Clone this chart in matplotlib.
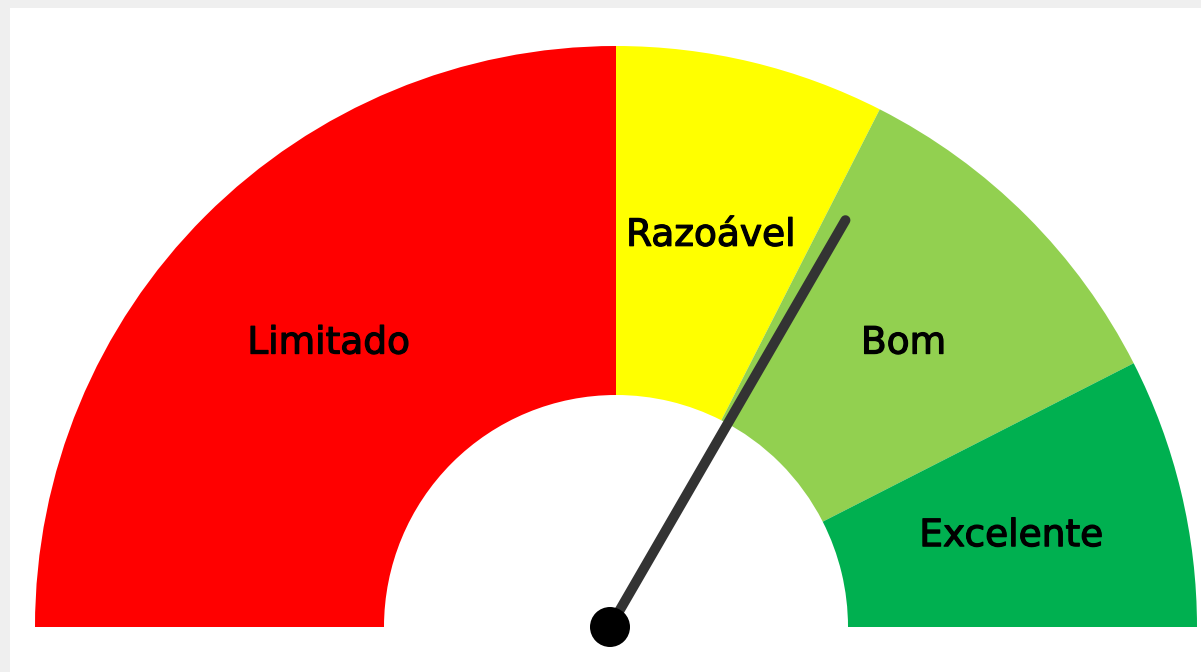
import numpy as np
import matplotlib.pyplot as plt
import matplotlib.patheffects as pe
from matplotlib.patches import Wedge, Rectangle, Circle

labels = ['Limitado', 'Razoável', 'Bom', 'Excelente']
values = [50, 15, 20, 15]
colors = ['#ff0000', '#ffff00', '#92d050', '#00b050']
needle_value = 66.7
total = sum(values)

W, H = 1201, 672
fig = plt.figure(figsize=(W / 100, H / 100), dpi=100)
fig.patch.set_facecolor('#efefef')
ax = fig.add_axes([0, 0, 1, 1])
ax.set_xlim(0, W)
ax.set_ylim(0, H)
ax.axis('off')

# white panel inside the light gray frame
ax.add_patch(Rectangle((10, 0), W - 10, H - 8, facecolor='white', edgecolor='none'))

cx, cy = 616, 45
r_out, r_in = 581, 232

start = 180.0
for lab, v, c in zip(labels, values, colors):
    span = 180.0 * v / total
    end = start - span
    ax.add_patch(Wedge((cx, cy), r_out, end, start, width=r_out - r_in,
                       facecolor=c, edgecolor='none'))
    mid = np.radians((start + end) / 2)
    rm = (r_out + r_in) / 2
    ax.text(cx + rm * np.cos(mid), cy + rm * np.sin(mid) - 4, lab,
            ha='center', va='center', fontsize=27, color='black',
            family='DejaVu Sans',
            path_effects=[pe.withStroke(linewidth=0.9, foreground='black')])
    start = end

# needle
px, py = 610, 45
ang = np.radians(180.0 * (1 - needle_value / total))
length = 470
ax.plot([px, px + length * np.cos(ang)], [py, py + length * np.sin(ang)],
        color='#333333', lw=7.2, solid_capstyle='round', zorder=5)
ax.add_patch(Circle((px, py), 20, facecolor='black', edgecolor='none', zorder=6))

fig.savefig('out.png', dpi=100, facecolor=fig.get_facecolor())
